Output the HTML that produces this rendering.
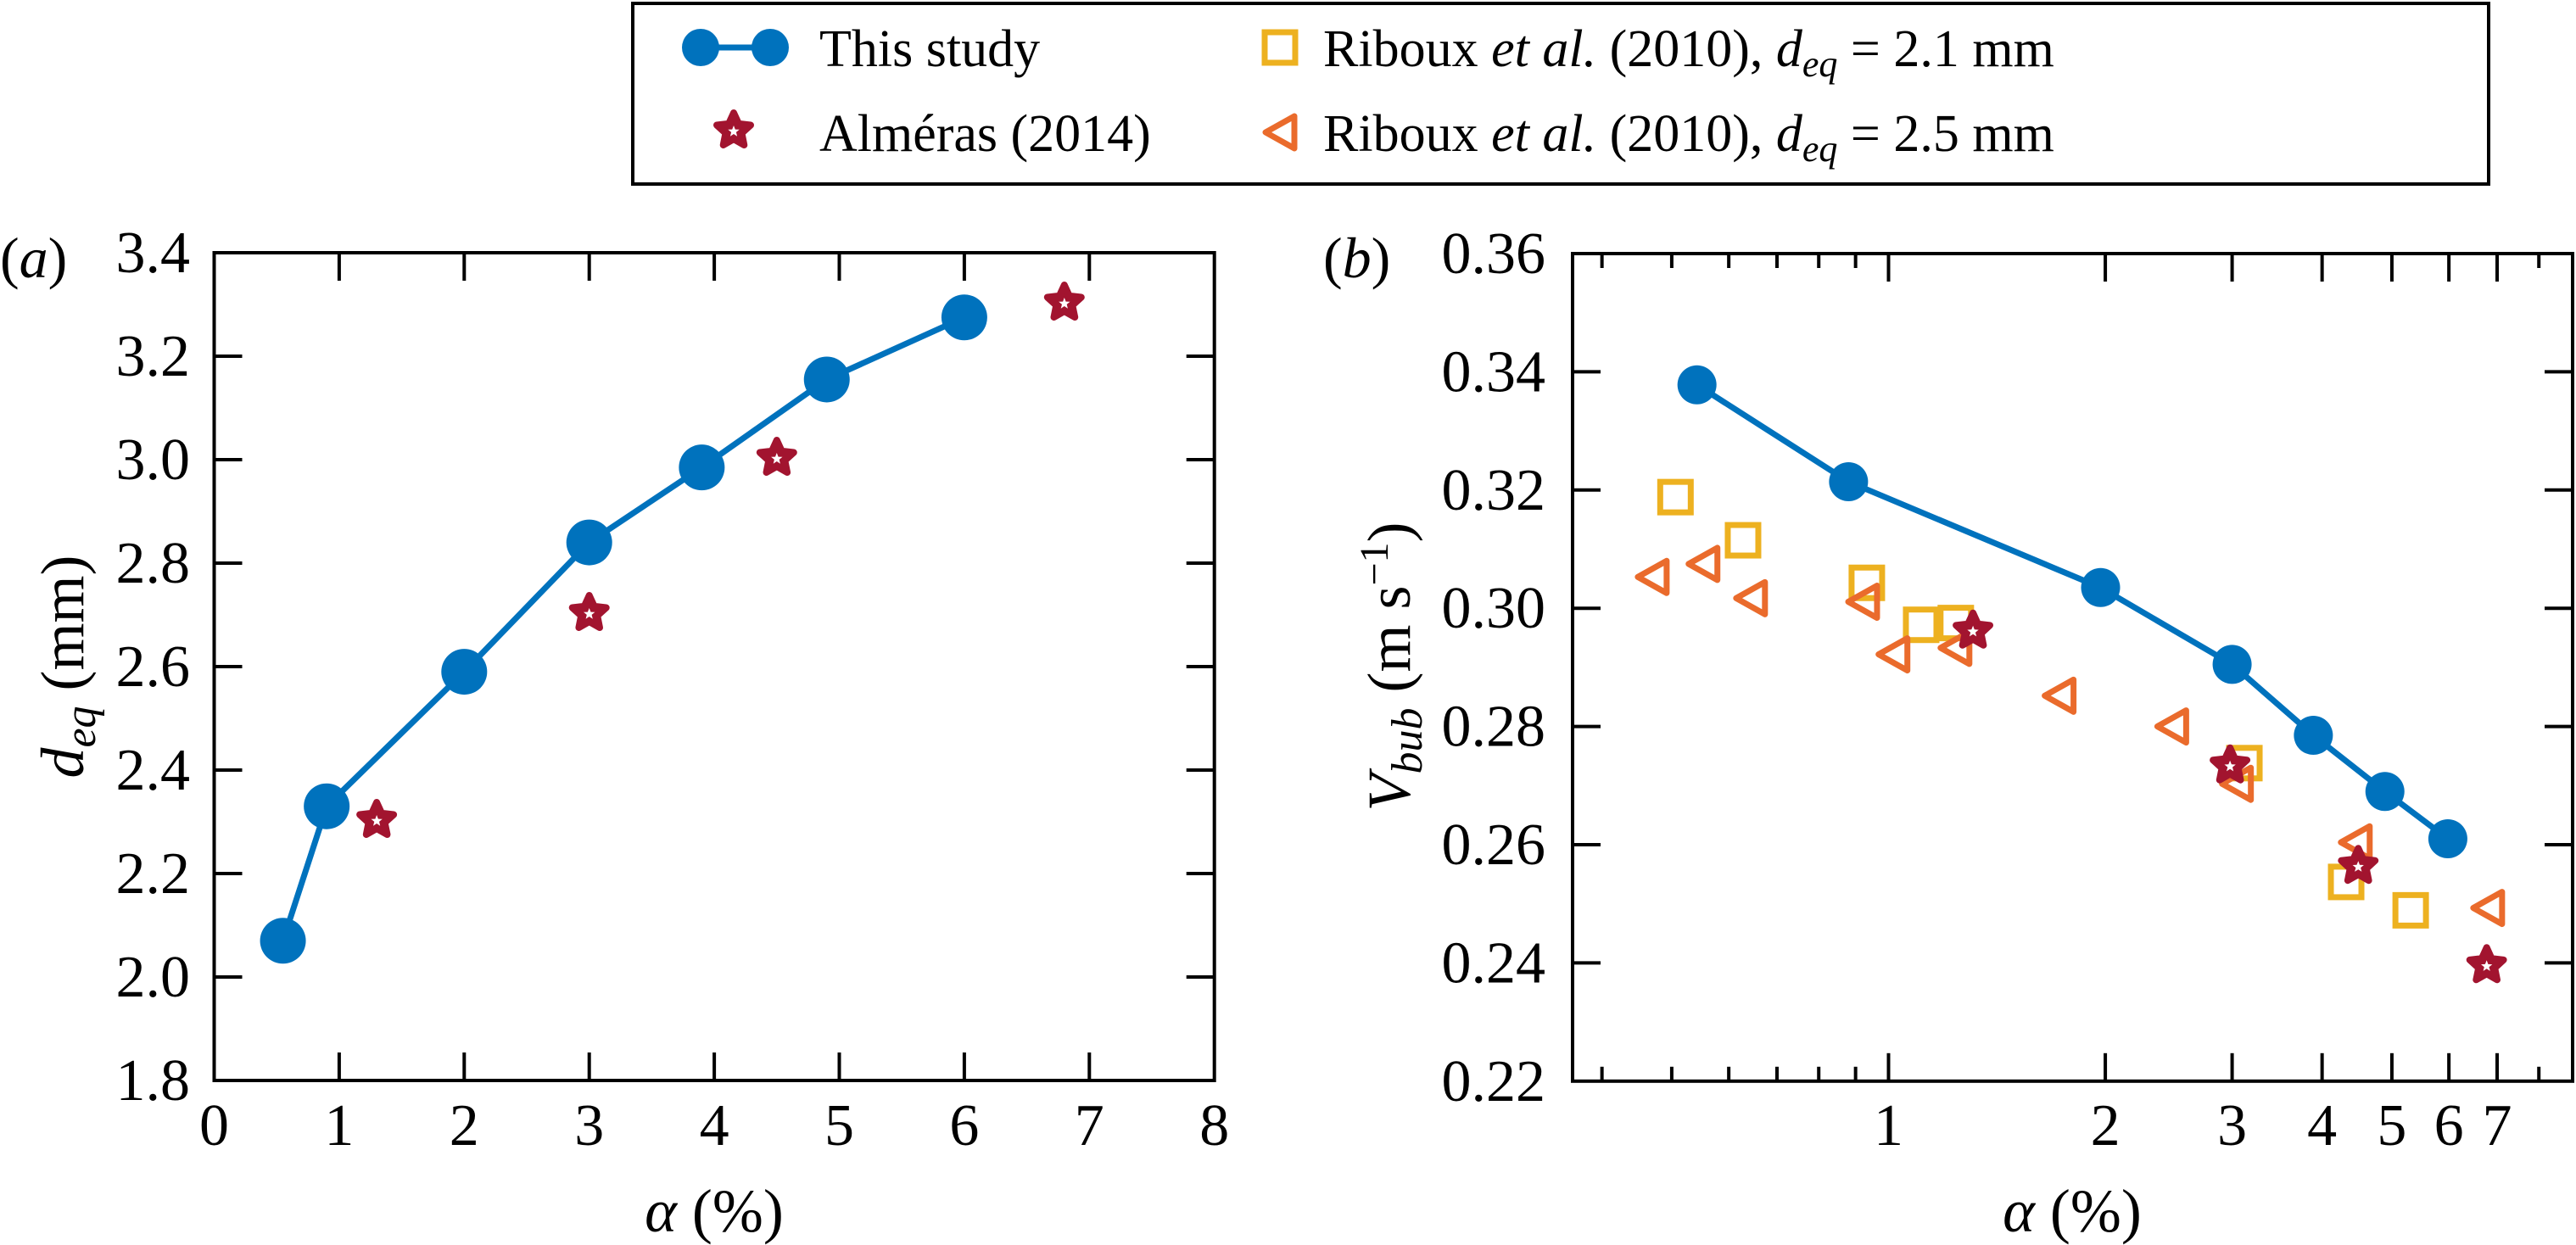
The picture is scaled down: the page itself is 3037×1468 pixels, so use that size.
<!DOCTYPE html>
<html><head><meta charset="utf-8"><style>
html,body{margin:0;padding:0;background:#fff;}
svg, svg text{font-family:"Liberation Serif","DejaVu Serif",serif;}
svg{display:block;}
</style></head><body>
<svg id="fig" width="3037" height="1468" viewBox="0 0 3037 1468" xmlns="http://www.w3.org/2000/svg" font-family="Liberation Serif, serif">
<g id="legend">
<rect x="746" y="4" width="2188" height="213" fill="#fff" stroke="#000" stroke-width="4"/>
<g>
<line x1="826" y1="56" x2="908" y2="56" stroke="#0072BD" stroke-width="7"/>
<circle cx="826" cy="56" r="22" fill="#0072BD"/><circle cx="908" cy="56" r="22" fill="#0072BD"/>
<text x="966" y="78" font-size="62">This study</text></g>
<g id="legstarg">
<text x="966" y="178" font-size="62">Alméras (2014)</text></g>
<g>
<rect x="1491" y="38" width="36" height="36" fill="none" stroke="#EDB120" stroke-width="7"/>
<text x="1560" y="78" font-size="62">Riboux <tspan font-style="italic">et al.</tspan> (2010), <tspan font-style="italic">d</tspan><tspan font-style="italic" font-size="44" dy="12">eq</tspan><tspan dy="-12"> = 2.1 mm</tspan></text></g>
<g>
<polygon points="1492,156 1526,137 1526,175" fill="none" stroke="#EA6B2C" stroke-width="7" stroke-linejoin="round"/>
<text x="1560" y="178" font-size="62">Riboux <tspan font-style="italic">et al.</tspan> (2010), <tspan font-style="italic">d</tspan><tspan font-style="italic" font-size="44" dy="12">eq</tspan><tspan dy="-12"> = 2.5 mm</tspan></text></g>
</g>
<text x="0" y="327" font-size="68">(<tspan font-style="italic">a</tspan>)</text>
<text x="1560" y="327" font-size="68">(<tspan font-style="italic">b</tspan>)</text>
<text x="842" y="1452" font-size="72" text-anchor="middle"><tspan font-style="italic">α</tspan> (%)</text>
<text x="2443" y="1452" font-size="72" text-anchor="middle"><tspan font-style="italic">α</tspan> (%)</text>
<text transform="translate(98,786) rotate(-90)" font-size="72" text-anchor="middle"><tspan font-style="italic">d</tspan><tspan font-style="italic" font-size="52" dy="14">eq</tspan><tspan dy="-14"> (mm)</tspan></text>
<text transform="translate(1662,786) rotate(-90)" font-size="72" text-anchor="middle"><tspan font-style="italic">V</tspan><tspan font-style="italic" font-size="52" dy="14">bub</tspan><tspan dy="-14"> (m s</tspan><tspan font-size="48" dy="-26">−1</tspan><tspan dy="26">)</tspan></text>
<g id="pa"></g>
<g id="pb"></g>
</svg>
<script>
// Panel (a) data
const aStudyX = [0.55, 0.9, 2.0, 3.0, 3.9, 4.9, 6.0];
const aStudyY = [2.07, 2.33, 2.59, 2.84, 2.985, 3.155, 3.275];
const aAlmX = [1.3, 3.0, 4.5, 6.8];
const aAlmY = [2.3, 2.7, 3.0, 3.3];
const aXTicks = [0,1,2,3,4,5,6,7,8];
const aYTicks = [1.8,2.0,2.2,2.4,2.6,2.8,3.0,3.2,3.4];
// Panel (b) data
const bStudyX = [0.542, 0.88, 1.97, 3.0, 3.89, 4.89, 5.98];
const bStudyY = [0.3378, 0.3214, 0.3035, 0.2905, 0.2785, 0.2690, 0.2610];
const bSqX = [0.506, 0.628, 0.933, 1.11, 1.24, 3.12, 4.32, 5.31];
const bSqY = [0.3188, 0.3115, 0.3043, 0.2972, 0.2975, 0.2738, 0.2537, 0.2489];
const bTriX = [0.471, 0.554, 0.645, 0.923, 1.017, 1.24, 1.73, 2.48, 3.05, 4.46, 6.81];
const bTriY = [0.3053, 0.3075, 0.3017, 0.3011, 0.2922, 0.2933, 0.2852, 0.2800, 0.2703, 0.2604, 0.2493];
const bAlmX = [1.31, 2.98, 4.49, 6.77];
const bAlmY = [0.2959, 0.2731, 0.2561, 0.2393];
const bXMajor = [1,2,3,4,5,6,7];
const bXMinor = [0.4,0.5,0.6,0.7,0.8,0.9,8];
const bYTicks = [0.22,0.24,0.26,0.28,0.30,0.32,0.34,0.36];

const NS = "http://www.w3.org/2000/svg";
const FONT = "Liberation Serif, DejaVu Serif, serif";
function mk(parent, tag, attrs){const e=document.createElementNS(NS,tag);for(const k in attrs)e.setAttribute(k,attrs[k]);parent.appendChild(e);return e;}
function starPts(cx,cy,R,r){let p=[];for(let i=0;i<10;i++){const ang=-Math.PI/2+i*Math.PI/5;const rr=i%2?r:R;p.push((cx+rr*Math.cos(ang)).toFixed(1)+","+(cy+rr*Math.sin(ang)).toFixed(1));}return p.join(" ");}
function star(g,cx,cy){
  const s=mk(g,'g',{});
  mk(s,'polygon',{points:starPts(cx,cy,21,10),fill:'#A2142F',stroke:'#A2142F','stroke-width':8,'stroke-linejoin':'round'});
  mk(s,'polygon',{points:starPts(cx,cy+1,7,3),fill:'#fff'});
  return s;
}
star(document.getElementById('legstarg'),865,154);

const xa = v => 252.5 + v*147.4;
const ya = v => 298 + (3.4 - v)/0.2*122;
const xb = a => 2226.5 + 849*Math.log10(a);
const yb = v => 299 + (0.36 - v)/0.02*139.4;

function frame(g,x0,y0,x1,y1){
  const r=mk(g,'rect',{x:x0,y:y0,width:x1-x0,height:y1-y0,fill:'none',stroke:'#000','stroke-width':4});
  
  
}
function label(g,x,y,txt,anchor){
  const tx=mk(g,'text',{x:x,y:y,'font-size':70,'text-anchor':anchor,'font-family':FONT});
  tx.textContent=txt;
  return tx;
}
// Panel A
const pa=document.getElementById('pa');
frame(pa,xa(0),ya(3.4),xa(8),ya(1.8));
aXTicks.forEach(t=>{
  const x=xa(t);
  if(t>0&&t<8){mk(pa,'line',{x1:x,y1:ya(1.8),x2:x,y2:ya(1.8)-33,stroke:'#000','stroke-width':4});
  mk(pa,'line',{x1:x,y1:ya(3.4),x2:x,y2:ya(3.4)+33,stroke:'#000','stroke-width':4});}
  const tx=label(pa,x,1350,String(t),'middle');
  
  
});
aYTicks.forEach(t=>{
  const y=ya(t);
  if(t>1.85&&t<3.35){mk(pa,'line',{x1:xa(0),y1:y,x2:xa(0)+33,y2:y,stroke:'#000','stroke-width':4});
  mk(pa,'line',{x1:xa(8),y1:y,x2:xa(8)-33,y2:y,stroke:'#000','stroke-width':4});}
  const tx=label(pa,224,y+23,t.toFixed(1),'end');
  
  
});
const la=mk(pa,'polyline',{points:aStudyX.map((x,i)=>xa(x)+','+ya(aStudyY[i])).join(' '),fill:'none',stroke:'#0072BD','stroke-width':7});


aStudyX.forEach((x,i)=>{const c=mk(pa,'circle',{cx:xa(x),cy:ya(aStudyY[i]),r:27,fill:'#0072BD'});
  
  });
aAlmX.forEach((x,i)=>{const s=star(pa,xa(x),ya(aAlmY[i])-2);
  
  });

// Panel B
const pb=document.getElementById('pb');
frame(pb,1854,299,3033,yb(0.22));
const yB=yb(0.22);
bXMajor.forEach(t=>{
  const x=xb(t);
  mk(pb,'line',{x1:x,y1:yB,x2:x,y2:yB-33,stroke:'#000','stroke-width':4});
  mk(pb,'line',{x1:x,y1:299,x2:x,y2:299+33,stroke:'#000','stroke-width':4});
  const tx=label(pb,x,1350,String(t),'middle');
  
  
});
bXMinor.forEach(t=>{
  const x=xb(t);
  mk(pb,'line',{x1:x,y1:yB,x2:x,y2:yB-17,stroke:'#000','stroke-width':4});
  mk(pb,'line',{x1:x,y1:299,x2:x,y2:299+17,stroke:'#000','stroke-width':4});
});
bYTicks.forEach(t=>{
  const y=yb(t);
  if(t>0.225&&t<0.355){mk(pb,'line',{x1:1854,y1:y,x2:1854+33,y2:y,stroke:'#000','stroke-width':4});
  mk(pb,'line',{x1:3033,y1:y,x2:3033-33,y2:y,stroke:'#000','stroke-width':4});}
  const tx=label(pb,1822,y+23,t.toFixed(2),'end');
  
  
});
bSqX.forEach((x,i)=>{const cx=xb(x),cy=yb(bSqY[i]);
  const r=mk(pb,'rect',{x:cx-18,y:cy-18,width:36,height:36,fill:'none',stroke:'#EDB120','stroke-width':7});
  
  });
bTriX.forEach((x,i)=>{const cx=xb(x),cy=yb(bTriY[i]);
  const p=mk(pb,'polygon',{points:(cx-18)+','+cy+' '+(cx+16)+','+(cy-19)+' '+(cx+16)+','+(cy+19),fill:'none',stroke:'#EA6B2C','stroke-width':7,'stroke-linejoin':'round'});
  
  });
bAlmX.forEach((x,i)=>{const s=star(pb,xb(x),yb(bAlmY[i])-2);
  
  });
const lb=mk(pb,'polyline',{points:bStudyX.map((x,i)=>xb(x)+','+yb(bStudyY[i])).join(' '),fill:'none',stroke:'#0072BD','stroke-width':7});


bStudyX.forEach((x,i)=>{const c=mk(pb,'circle',{cx:xb(x),cy:yb(bStudyY[i]),r:23,fill:'#0072BD'});
  
  });
</script>
</body></html>
